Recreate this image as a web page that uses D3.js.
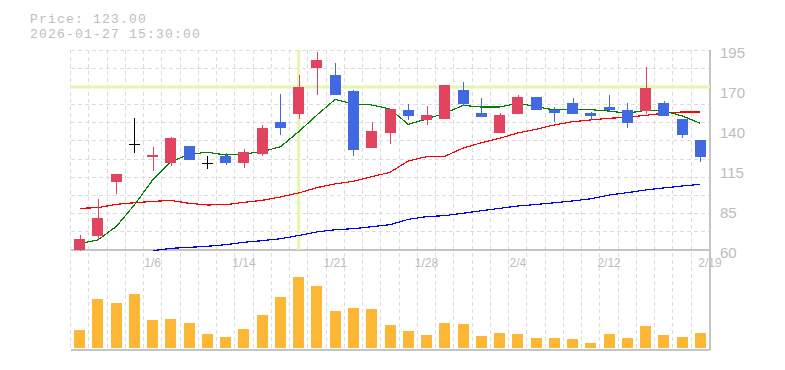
<!DOCTYPE html>
<html lang="en">
<head>
<meta charset="UTF-8">
<title>Candles</title>
<script src="https://cdnjs.cloudflare.com/ajax/libs/d3/7.8.5/d3.min.js"></script>
<style>
body{margin:0;background:#fff;}
text.info{font-family:"Liberation Mono",monospace;font-size:13px;letter-spacing:1.2px;fill:#bdbdbd;}
text.ylab{font-family:"Liberation Sans",Arial,sans-serif;font-size:15px;fill:#bdbdbd;}
text.xlab{font-family:"Liberation Sans",Arial,sans-serif;font-size:12px;fill:#bdbdbd;}
.grid line{stroke:#dcdcdc;stroke-dasharray:4,3;shape-rendering:crispEdges;}
.frame line{stroke:#c4c4c4;stroke-width:1.5;shape-rendering:crispEdges;}
path.ma{fill:none;stroke-width:1.2;shape-rendering:crispEdges;}
</style>
</head>
<body>
<svg id="chart" width="785" height="370"></svg>
<script>
// trading days
var dates = ["12/26","12/29","12/30","1/5","1/6","1/7","1/8","1/9","1/13","1/14",
  "1/15","1/16","1/19","1/20","1/21","1/22","1/23","1/26","1/27","1/28",
  "1/29","1/30","2/2","2/3","2/4","2/5","2/6","2/9","2/10","2/12",
  "2/13","2/16","2/17","2/18","2/19"];

var open  = [60,69.5,106.1,131.3,122.8,118.9,130.2,118.9,123.7,118.9,
  125,146.4,152,183,178.1,167.3,129,139.2,154.5,148,
  148.4,168,152.5,139.2,152,163.3,154.5,159.4,152.5,156.5,
  154.5,154,159.2,148.4,134.3];
var high  = [70.1,94.4,111.3,149.3,129.7,136.3,130.2,123.5,125.5,128.2,
  144.4,165.3,178.3,193.7,186.2,168,146.4,155.2,158.6,157.2,
  171.4,173.4,162.6,152.5,164.6,163.3,156.5,162.6,153.4,164.6,
  159.2,183.5,160.6,148.4,134.3];
var low   = [59.5,67.4,98,125.7,113.5,116.7,121,114.7,117.4,115.6,
  123.7,137.8,148.6,164.8,164.8,123.7,129,131.8,147.8,144.6,
  148.4,157.2,150,139.2,152,154.7,146.4,152,147.8,153.2,
  142.4,151.8,150.7,135.8,119.6];
var close = [67.4,81.6,111.3,131.3,124.1,135.6,121,118.9,118.9,126.2,
  142.4,142.6,170,188.4,164.8,127.7,140.3,155.2,150.7,151.1,
  171.4,158.8,150,151.1,163.3,154.7,152.7,152,150.7,154.5,
  145.9,169.4,150.7,137.8,123];
var volume = [18,49,45,54,28,29,25,14,11,19,
  33,51,71,62,37,40,39,23,17,13,
  25,24,12,15,14,10,10,9,5,14,
  10,22,13,11,15];

var ma5  = [64.3,66.8,75.8,90.4,107.3,119.6,124.6,126,124.1,124.8,
  126.4,129.7,139.9,151.1,161.7,158.6,157.9,155.2,144.8,148.4,
  152.3,157.6,156.5,156.5,159,156.8,154.5,155.2,154.7,153.8,
  152.3,154.3,154,150.5,145.5];
var ma25 = [88.1,88.6,90.8,91.9,92.8,93.5,91.5,90.4,90.6,92.2,
  93.5,95.8,98.5,102.1,104.6,106.4,109.5,112.4,120.1,123,
  123.2,128.8,132.4,135.4,139,141.5,144.4,146.6,147.8,148.9,
  149.6,150.9,152.3,153.2,153.2];
var ma75 = [null,null,null,null,59.5,61.1,61.8,62.5,63.6,65.2,
  66.3,67.6,69.8,72.2,73.7,74.4,75.7,77.1,80.7,82.5,
  83.2,84.8,86.5,88.1,89.7,90.7,91.9,93.1,94.6,97.1,
  98.7,100.5,101.9,103.2,104.3];

var xTicks = ["1/6","1/14","1/21","1/28","2/4","2/12","2/19"];
var yTicks = [60,87,114,141,168,195];
var yTickLabels = ["60","85","115","140","170","195"];

var infoLines = ["Price: 123.00","2026-01-27 15:30:00"];
var crossDate = "1/19", crossPrice = 170;

var left = 70.5, right = 709.5, axisX = 710;
var pTop = 50, pBottom = 250, vBottom = 348, vTop = 277, bottom = 350;

var svg = d3.select('#chart');

var x = d3.scaleBand().domain(dates).range([left, right]);
var bw = x.bandwidth();
var bodyW = Math.round(bw*0.6);
var cx = function(d){ return x(d) + bw/2; };

var y = d3.scaleLinear().domain([60,195]).range([pBottom, pTop]);
var yv = d3.scaleLinear().domain([0, d3.max(volume)]).range([vBottom, vTop]);

// grid
var grid = svg.append('g').attr('class','grid');
grid.selectAll('line.v').data(dates).enter().append('line')
  .attr('class','v')
  .attr('x1', function(d){ return x(d); })
  .attr('x2', function(d){ return x(d); })
  .attr('y1', pTop).attr('y2', bottom);
grid.selectAll('line.h').data(d3.range(11)).enter().append('line')
  .attr('class','h')
  .attr('x1', left).attr('x2', axisX)
  .attr('y1', function(k){ return pTop + k*(pBottom-pTop)/11; })
  .attr('y2', function(k){ return pTop + k*(pBottom-pTop)/11; });

// frame
var frame = svg.append('g').attr('class','frame');
frame.append('line').attr('x1', left).attr('x2', axisX).attr('y1', pBottom).attr('y2', pBottom);
frame.append('line').attr('x1', left).attr('x2', axisX).attr('y1', bottom).attr('y2', bottom);
frame.append('line').attr('x1', axisX).attr('x2', axisX).attr('y1', pTop).attr('y2', bottom);

// crosshair
svg.append('line')
  .attr('x1', cx(crossDate)).attr('x2', cx(crossDate))
  .attr('y1', pTop).attr('y2', pBottom)
  .attr('stroke', '#e6f5ae').attr('stroke-width', 3);
svg.append('line')
  .attr('x1', left).attr('x2', axisX)
  .attr('y1', y(crossPrice)).attr('y2', y(crossPrice))
  .attr('stroke', '#e6f5ae').attr('stroke-width', 3);

// moving averages
function maLine(vals, color){
  var line = d3.line()
    .defined(function(d){ return d != null; })
    .x(function(d, i){ return cx(dates[i]); })
    .y(function(d){ return y(d); });
  svg.append('path').attr('class','ma').attr('stroke', color).attr('d', line(vals));
}
maLine(ma75, '#0000ff');
maLine(ma25, '#ff0000');
maLine(ma5, '#008000');

// candles
var candle = svg.append('g').selectAll('g').data(dates).enter().append('g');
function col(i){
  if (close[i] > open[i]) return '#e2435f';
  if (close[i] < open[i]) return '#4169e1';
  return '#000';
}
candle.append('rect')
  .attr('x', function(d){ return Math.round(cx(d)) - 0.5; })
  .attr('width', 1)
  .attr('y', function(d, i){ return y(high[i]); })
  .attr('height', function(d, i){ return Math.max(1, y(low[i]) - y(high[i])); })
  .attr('fill', function(d, i){ return col(i); })
  .attr('shape-rendering', 'crispEdges');
candle.append('rect')
  .attr('x', function(d){ return Math.round(cx(d) - bodyW/2); })
  .attr('width', bodyW)
  .attr('y', function(d, i){ return Math.round(y(Math.max(open[i], close[i]))); })
  .attr('height', function(d, i){
    return open[i] == close[i] ? 1 : Math.max(2, Math.abs(y(open[i]) - y(close[i])));
  })
  .attr('fill', function(d, i){ return col(i); })
  .attr('shape-rendering', 'crispEdges');

// volume
svg.append('g').selectAll('rect').data(dates).enter().append('rect')
  .attr('x', function(d){ return Math.round(cx(d) - bodyW/2); })
  .attr('width', bodyW)
  .attr('y', function(d, i){ return yv(volume[i]); })
  .attr('height', function(d, i){ return vBottom - yv(volume[i]); })
  .attr('fill', '#fdb735')
  .attr('shape-rendering', 'crispEdges');

// axis labels
svg.selectAll('text.ylab').data(yTicks).enter().append('text')
  .attr('class','ylab')
  .attr('x', 720)
  .attr('y', function(d){ return y(d) + 8; })
  .text(function(d, i){ return yTickLabels[i]; });

svg.selectAll('text.xlab').data(xTicks).enter().append('text')
  .attr('class','xlab')
  .attr('text-anchor', function(d, i){ return i == xTicks.length-1 ? 'start' : 'middle'; })
  .attr('x', function(d, i){ return i == xTicks.length-1 ? cx(d) - 2 : cx(d); })
  .attr('y', 267)
  .text(function(d){ return d; });

// info text
svg.selectAll('text.info').data(infoLines).enter().append('text')
  .attr('class','info')
  .attr('x', 30)
  .attr('y', function(d, i){ return 23 + i*15; })
  .text(function(d){ return d; });
</script>
</body>
</html>
